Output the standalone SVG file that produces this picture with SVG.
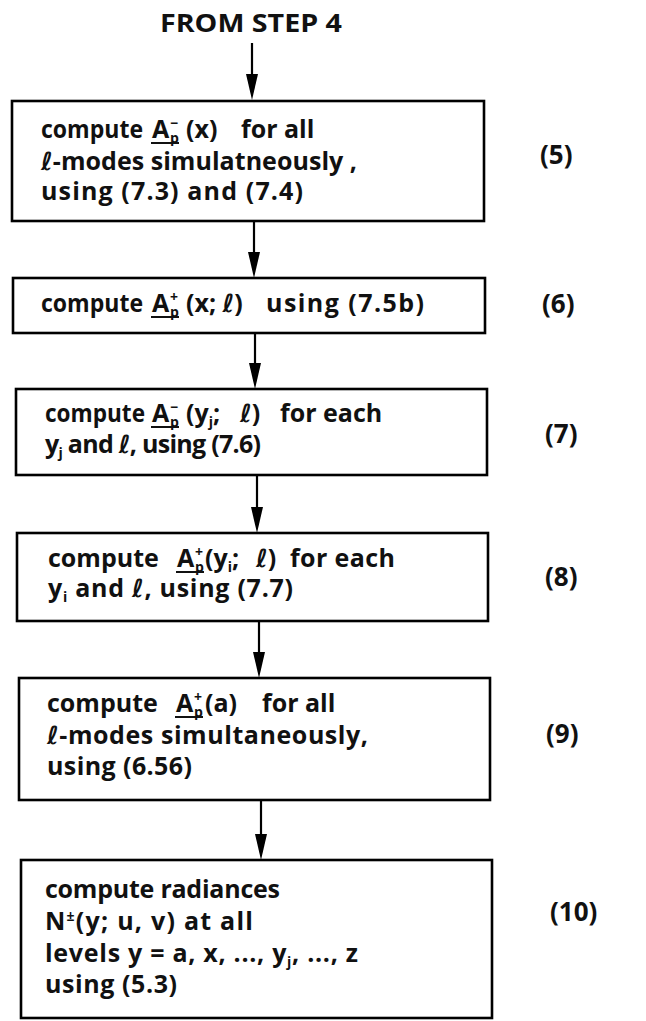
<svg xmlns="http://www.w3.org/2000/svg" width="646" height="1021" viewBox="0 0 646 1021">
<defs>
<style>
text{font-family:"Open Sans","Liberation Sans",sans-serif;font-weight:700;font-size:25px;fill:#111}
.box{fill:#fff;stroke:#000;stroke-width:2.6}
.conn{stroke:#000;stroke-width:2.2;fill:none}
.head{fill:#000}
.sm{font-size:14px}
.ell{font-family:"DejaVu Sans",sans-serif;font-style:italic;font-weight:700}
.ul{stroke:#111;stroke-width:2}
.num{font-size:26px}
</style>
</defs>
<rect width="646" height="1021" fill="#fff"/>
<g id="header"><text x="160" y="32" textLength="182" lengthAdjust="spacingAndGlyphs">FROM STEP 4</text></g>
<g id="connectors">
<line class="conn" x1="252" y1="43" x2="252" y2="76"/><path class="head" d="M246,74 L258,74 L252,100 Z"/>
<line class="conn" x1="254" y1="221" x2="254" y2="254"/><path class="head" d="M248,252 L260,252 L254,278 Z"/>
<line class="conn" x1="255" y1="333" x2="255" y2="365"/><path class="head" d="M249,363 L261,363 L255,389 Z"/>
<line class="conn" x1="257" y1="475" x2="257" y2="509"/><path class="head" d="M251,507 L263,507 L257,533 Z"/>
<line class="conn" x1="259" y1="621" x2="259" y2="654"/><path class="head" d="M253,652 L265,652 L259,678 Z"/>
<line class="conn" x1="261" y1="800" x2="261" y2="836"/><path class="head" d="M255,834 L267,834 L261,860 Z"/>
</g>
<g id="step5">
<rect class="box" x="12" y="101" width="472" height="120"/>
<text x="41" y="138" textLength="102" lengthAdjust="spacingAndGlyphs">compute</text>
<text x="152" y="138">A<tspan class="sm" x="170" dy="-10">−</tspan><tspan class="sm" x="170" dy="15">p</tspan></text>
<text x="186" y="138">(x)</text>
<text x="241" y="138">for all</text>
<line class="ul" x1="151" y1="143" x2="179" y2="143"/>
<text x="41" y="170" textLength="316" lengthAdjust="spacing"><tspan class="ell">ℓ</tspan>-modes simulatneously ,</text>
<text x="41" y="200" textLength="262" lengthAdjust="spacing">using (7.3) and (7.4)</text>
<text class="num" x="540" y="164">(5)</text>
</g>
<g id="step6">
<rect class="box" x="13" y="278" width="472" height="55"/>
<text x="41" y="312" textLength="102" lengthAdjust="spacingAndGlyphs">compute</text>
<text x="152" y="312">A<tspan class="sm" x="170" dy="-10">+</tspan><tspan class="sm" x="170" dy="15">p</tspan></text>
<text x="186" y="312">(x; <tspan class="ell">ℓ</tspan>)</text>
<text x="266" y="312" textLength="158" lengthAdjust="spacing">using (7.5b)</text>
<line class="ul" x1="151" y1="317" x2="179" y2="317"/>
<text class="num" x="542" y="313">(6)</text>
</g>
<g id="step7">
<rect class="box" x="16" y="389" width="471" height="86"/>
<text x="45" y="422" textLength="100" lengthAdjust="spacingAndGlyphs">compute</text>
<text x="152" y="422">A<tspan class="sm" x="170" dy="-10">−</tspan><tspan class="sm" x="170" dy="15">p</tspan></text>
<text x="186" y="422">(y<tspan class="sm" dy="5">j</tspan><tspan dy="-5">;</tspan><tspan class="ell" x="240">ℓ</tspan>)</text>
<text x="280" y="422">for each</text>
<line class="ul" x1="151" y1="427" x2="179" y2="427"/>
<text x="45" y="453" textLength="216" lengthAdjust="spacing">y<tspan class="sm" dy="5">j</tspan><tspan dy="-5"> and </tspan><tspan class="ell">ℓ</tspan>, using (7.6)</text>
<text class="num" x="545" y="443">(7)</text>
</g>
<g id="step8">
<rect class="box" x="17" y="533" width="471" height="88"/>
<text x="48" y="567">compute</text>
<text x="177" y="567">A<tspan class="sm" x="195" dy="-10">+</tspan><tspan class="sm" x="195" dy="15">p</tspan></text>
<text x="205" y="567">(y<tspan class="sm" dy="5">i</tspan><tspan dy="-5">;</tspan><tspan class="ell" x="256">ℓ</tspan>)</text>
<text x="290" y="567" textLength="105" lengthAdjust="spacing">for each</text>
<line class="ul" x1="176" y1="572" x2="204" y2="572"/>
<text x="48" y="597" textLength="245" lengthAdjust="spacing">y<tspan class="sm" dy="5">i</tspan><tspan dy="-5"> and </tspan><tspan class="ell">ℓ</tspan>, using (7.7)</text>
<text class="num" x="545" y="586">(8)</text>
</g>
<g id="step9">
<rect class="box" x="19" y="678" width="471" height="122"/>
<text x="47" y="712">compute</text>
<text x="176" y="712">A<tspan class="sm" x="194" dy="-10">+</tspan><tspan class="sm" x="194" dy="15">p</tspan></text>
<text x="205" y="712">(a)</text>
<text x="262" y="712">for all</text>
<line class="ul" x1="175" y1="717" x2="203" y2="717"/>
<text x="47" y="744" textLength="321" lengthAdjust="spacing"><tspan class="ell">ℓ</tspan>-modes simultaneously,</text>
<text x="47" y="775" textLength="145" lengthAdjust="spacing">using (6.56)</text>
<text class="num" x="546" y="743">(9)</text>
</g>
<g id="step10">
<rect class="box" x="21" y="860" width="471" height="158"/>
<text x="45" y="898" textLength="235" lengthAdjust="spacing">compute radiances</text>
<text x="45" y="930" textLength="208" lengthAdjust="spacing">N<tspan class="sm" dy="-9">±</tspan><tspan dy="9">(y; u, v) at all</tspan></text>
<text x="45" y="962" textLength="313" lengthAdjust="spacing">levels y = a, x, ..., y<tspan class="sm" dy="5">j</tspan><tspan dy="-5">, ..., z</tspan></text>
<text x="45" y="993" textLength="132" lengthAdjust="spacing">using (5.3)</text>
<text class="num" x="550" y="921">(10)</text>
</g>
</svg>
